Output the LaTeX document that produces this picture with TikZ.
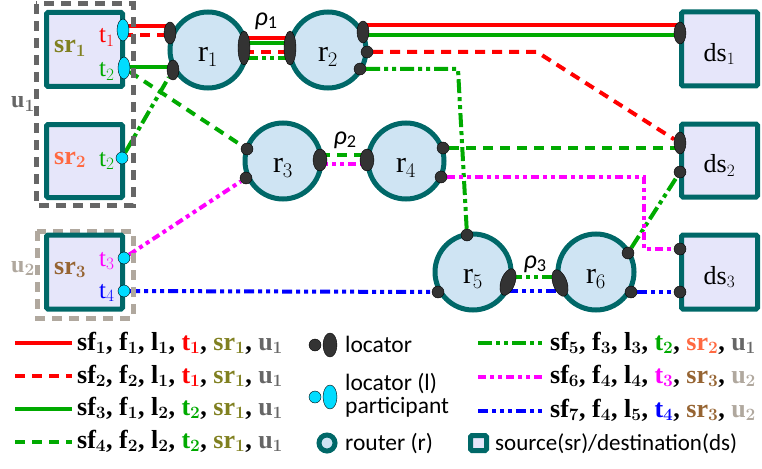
\documentclass[tikz,border=0pt]{standalone}
\usepackage{fontspec}
\setmainfont{Liberation Serif}
\newfontfamily\carlito{Carlito}
\usetikzlibrary{shapes.geometric,backgrounds}

\definecolor{tealb}{RGB}{0,104,104}
\definecolor{routerfill}{RGB}{207,228,243}
\definecolor{boxfill}{RGB}{230,230,250}
\definecolor{locgray}{RGB}{51,51,51}
\definecolor{partcyan}{RGB}{0,220,255}
\definecolor{flowred}{RGB}{255,0,0}
\definecolor{flowgreen}{RGB}{0,170,0}
\definecolor{flowmag}{RGB}{255,0,255}
\definecolor{flowblue}{RGB}{0,0,255}
\definecolor{srone}{RGB}{128,128,32}
\definecolor{srtwo}{RGB}{255,105,65}
\definecolor{srthree}{RGB}{150,100,50}
\definecolor{uone}{RGB}{102,102,102}
\definecolor{utwo}{RGB}{176,168,158}

\tikzset{
	endbox/.style={rectangle, draw=tealb, fill=boxfill, line width=5pt, rounded corners=1.5pt, minimum width=76pt, minimum height=74pt, inner sep=0pt},
	router/.style={circle, draw=tealb, fill=routerfill, line width=5pt, minimum size=76pt, inner sep=0pt},
	locator/.style={ellipse, draw=black, fill=locgray, line width=0.4pt, inner sep=0pt, minimum width=12pt, minimum height=22pt},
	locdot/.style={circle, draw=black, fill=locgray, line width=0.4pt, inner sep=0pt, minimum size=12pt},
	partic/.style={locator, fill=partcyan},
	partdot/.style={locdot, fill=partcyan},
	userbox/.style={dash pattern=on 10pt off 7pt, line width=5pt},
	flow/.style={line width=4pt},
	sfone/.style={flow, flowred},
	sftwo/.style={flow, flowred, dash pattern=on 10pt off 7pt},
	sfthree/.style={flow, flowgreen},
	sffour/.style={flow, flowgreen, dash pattern=on 10pt off 7pt},
	sffive/.style={flow, flowgreen, dash pattern=on 14pt off 4pt on 4pt off 4pt on 4pt off 4pt},
	sfsix/.style={flow, flowmag, dash pattern=on 8pt off 4pt on 4pt off 4pt on 4pt off 4pt},
	sfseven/.style={flow, flowblue, dash pattern=on 10pt off 4pt on 4pt off 4pt on 4pt off 4pt on 4pt off 4pt},
	rname/.style={inner sep=0pt, font=\fontsize{26}{28}\selectfont},
	srname/.style={inner sep=0pt, anchor=base west, font=\fontsize{26}{28}\selectfont\bfseries\boldmath},
	tname/.style={inner sep=0pt, anchor=base west, font=\fontsize{25}{27}\selectfont},
	uname/.style={inner sep=0pt, anchor=base west, font=\fontsize{24}{26}\selectfont\bfseries\boldmath},
	rhoname/.style={inner sep=0pt, font=\fontsize{26}{28}\selectfont\carlito},
	legtext/.style={inner sep=0pt, anchor=base west, font=\fontsize{26}{28}\selectfont\bfseries\boldmath},
	keytext/.style={inner sep=0pt, anchor=base west, font=\fontsize{23.5}{25}\selectfont\carlito},
}

\begin{document}
\begin{tikzpicture}[x=1pt,y=-1pt]
	\useasboundingbox (0,0) rectangle (762,468);

	% Users
	\draw[userbox, uone] (36,4) rectangle (133,205);
	\draw[userbox, utwo] (37,231) rectangle (133,318);
	\node[uname, uone] (u1) at (11,108) {u$_1$};
	\node[uname, utwo] (u2) at (11,272) {u$_2$};

	% Sources and destinations
	\node[endbox] (sr1) at (84.5,49.5) {};
	\node[endbox, minimum height=73pt] (sr2) at (84.5,161) {};
	\node[endbox] (sr3) at (84.5,272) {};
	\node[endbox] (ds1) at (719.5,49) {};
	\node[endbox, minimum height=73pt] (ds2) at (719.5,160.5) {};
	\node[endbox] (ds3) at (719.5,272) {};
	\node[srname, srone] (sr1t) at (54,53) {sr$_1$};
	\node[srname, srtwo] (sr2t) at (54,164) {sr$_2$};
	\node[srname, srthree] (sr3t) at (54,274) {sr$_3$};
	\node[rname] (ds1t) at ([yshift=-5pt]ds1.center) {ds$_1$};
	\node[rname] (ds2t) at ([yshift=-5pt]ds2.center) {ds$_2$};
	\node[rname] (ds3t) at ([yshift=-5pt]ds3.center) {ds$_3$};
	\node[tname, flowred] (t1t) at (99,43) {t$_1$};
	\node[tname, flowgreen] (t2t) at (99,77) {t$_2$};
	\node[tname, flowgreen] (t2s) at (99,166) {t$_2$};
	\node[tname, flowmag] (t3t) at (99,266) {t$_3$};
	\node[tname, flowblue] (t4t) at (99,298) {t$_4$};

	% Routers
	\node[router] (r1) at (208,50) {};
	\node[router] (r2) at (328,50) {};
	\node[router] (r3) at (283,161) {};
	\node[router] (r4) at (406,161) {};
	\node[router] (r5) at (473,272) {};
	\node[router] (r6) at (596,272) {};
	\foreach \r in {1,...,6}
		\node[rname, font=\fontsize{30}{32}\selectfont] (r\r t) at ([yshift=-7pt]r\r.center) {r$_\r$};
	\node[rhoname] (rho1) at (266,21) {\textit{ρ}\textsubscript{1}};
	\node[rhoname] (rho2) at (345,140) {\textit{ρ}\textsubscript{2}};
	\node[rhoname] (rho3) at (535,264) {\textit{ρ}\textsubscript{3}};

	% Locator participants
	\node[partic] (sr1t1) at (123,30) {};
	\node[partic] (sr1t2) at (124,68) {};
	\node[partdot] (sr2t2) at (122,158) {};
	\node[partdot] (sr3t3) at (124,258) {};
	\node[partdot] (sr3t4) at (124,291) {};

	% Locators
	\node[locator] (r1a) at (170,33) {};
	\node[locator, minimum height=20pt] (r1b) at (173,70) {};
	\node[locator, minimum height=34pt] (r1c) at (244,48) {};
	\node[locator, minimum height=34pt] (r2a) at (290,48) {};
	\node[locator] (r2b) at (363,32) {};
	\node[locdot] (r2c) at (367,52) {};
	\node[locdot] (r2d) at (360,69) {};
	\node[locdot] (r3a) at (247,149) {};
	\node[locdot] (r3b) at (246,178) {};
	\node[locator, minimum width=14pt] (r3c) at (320,160) {};
	\node[locator, minimum width=14pt] (r4a) at (367,160) {};
	\node[locdot] (r4b) at (443,148) {};
	\node[locdot] (r4c) at (441,177) {};
	\node[locdot] (r5a) at (467,235) {};
	\node[locdot] (r5b) at (438,292) {};
	\node[locator, minimum width=14pt, minimum height=28pt, rotate=-20] (r5c) at (508,282) {};
	\node[locator, minimum width=14pt, minimum height=28pt, rotate=20] (r6a) at (560,283) {};
	\node[locdot] (r6b) at (628,253) {};
	\node[locdot] (r6c) at (631,292) {};
	\node[locator] (ds1a) at (680,33) {};
	\node[locator] (ds2a) at (680,143) {};
	\node[locdot] (ds2b) at (680,172) {};
	\node[locdot] (ds3a) at (680,249) {};
	\node[locdot] (ds3b) at (680,292) {};

	% Flows
	\begin{scope}[on background layer]
		\draw[sfone] (sr1t1 |- 0,26) -- (r1a |- 0,26);
		\draw[sfone] (r1c |- 0,38) -- (r2a |- 0,38);
		\draw[sfone] (r2b |- 0,25) -- (ds1a |- 0,25);
		\draw[sftwo] (sr1t1 |- 0,35) -- (r1a |- 0,35);
		\draw[sftwo] (r1c |- 0,52) -- (r2a |- 0,52);
		\draw[sftwo] (r2c) -- ++(170,0) -- (ds2a);
		\draw[sfthree] (sr1t2 |- 0,67) -- (r1b |- 0,67);
		\draw[sfthree] (r1c |- 0,43) -- (r2a |- 0,43);
		\draw[sfthree] (r2b |- 0,35) -- (ds1a |- 0,35);
		\draw[sffour] (sr1t2) -- (r3a);
		\draw[sffour] (r3c |- 0,155) -- (r4a |- 0,155);
		\draw[sffour] (r4b) -- (ds2a |- r4b);
		\draw[sffive] (sr2t2) -- (r1b);
		\draw[sffive] (r1c |- 0,58) -- (r2a |- 0,58);
		\draw[sffive] (r2d) -- ++(98,0) -- (r5a);
		\draw[sffive] (r5c |- 0,277) -- (r6a |- 0,277);
		\draw[sffive] (r6b) -- (ds2b);
		\draw[sfsix] (sr3t3) -- (r3b);
		\draw[sfsix] (r3c |- 0,164) -- (r4a |- 0,164);
		\draw[sfsix] (r4c) -| (644,249) -- (ds3a);
		\draw[sfseven] (sr3t4) -- (r5b);
		\draw[sfseven] (r5c |- 0,291) -- (r6a |- 0,291);
		\draw[sfseven] (r6c) -- (ds3b);
	\end{scope}

	% Legend: flows
	\draw[sfone] (15,343) -- (72,343);
	\draw[sftwo] (15,376) -- (72,376);
	\draw[sfthree] (15,409) -- (72,409);
	\draw[sffour] (15,442) -- (72,442);
	\node[legtext] (lg1) at (77,350) {sf$_1$, f$_1$, l$_1$, \textcolor{flowred}{t$_1$}, \textcolor{srone}{sr$_1$}, \textcolor{uone}{u$_1$}};
	\node[legtext] (lg2) at (77,383) {sf$_2$, f$_2$, l$_1$, \textcolor{flowred}{t$_1$}, \textcolor{srone}{sr$_1$}, \textcolor{uone}{u$_1$}};
	\node[legtext] (lg3) at (77,415) {sf$_3$, f$_1$, l$_2$, \textcolor{flowgreen}{t$_2$}, \textcolor{srone}{sr$_1$}, \textcolor{uone}{u$_1$}};
	\node[legtext] (lg4) at (77,448) {sf$_4$, f$_2$, l$_2$, \textcolor{flowgreen}{t$_2$}, \textcolor{srone}{sr$_1$}, \textcolor{uone}{u$_1$}};
	\draw[sffive] (478,343) -- (542,343);
	\draw[sfsix] (478,377) -- (542,377);
	\draw[sfseven] (478,411) -- (542,411);
	\node[legtext] (lg5) at (550,350) {sf$_5$, f$_3$, l$_3$, \textcolor{flowgreen}{t$_2$}, \textcolor{srtwo}{sr$_2$}, \textcolor{uone}{u$_1$}};
	\node[legtext] (lg6) at (550,383) {sf$_6$, f$_4$, l$_4$, \textcolor{flowmag}{t$_3$}, \textcolor{srthree}{sr$_3$}, \textcolor{utwo}{u$_2$}};
	\node[legtext] (lg7) at (550,417) {sf$_7$, f$_4$, l$_5$, \textcolor{flowblue}{t$_4$}, \textcolor{srthree}{sr$_3$}, \textcolor{utwo}{u$_2$}};

	% Legend: symbols
	\node[locdot] (klocA) at (315,345) {};
	\node[locator, minimum width=14pt, minimum height=24pt] (klocB) at (330,345) {};
	\node[partdot] (kparA) at (315,397) {};
	\node[partic, minimum width=14pt, minimum height=24pt] (kparB) at (330,397) {};
	\node[router, minimum size=16pt] (krouter) at (327,443) {};
	\node[endbox, minimum width=16pt, minimum height=15pt] (kbox) at (478.5,443) {};
	\node[keytext] (klocT) at (345,352) {locator};
	\node[keytext] (kparT) at (345,390) {locator (l)};
	\node[keytext] (kparU) at (345,413) {participant};
	\node[keytext] (krouterT) at (345,450) {router (r)};
	\node[keytext, font=\fontsize{23}{25}\selectfont\carlito] (kboxT) at (495,450) {source(sr)/destination(ds)};
\end{tikzpicture}
\end{document}
